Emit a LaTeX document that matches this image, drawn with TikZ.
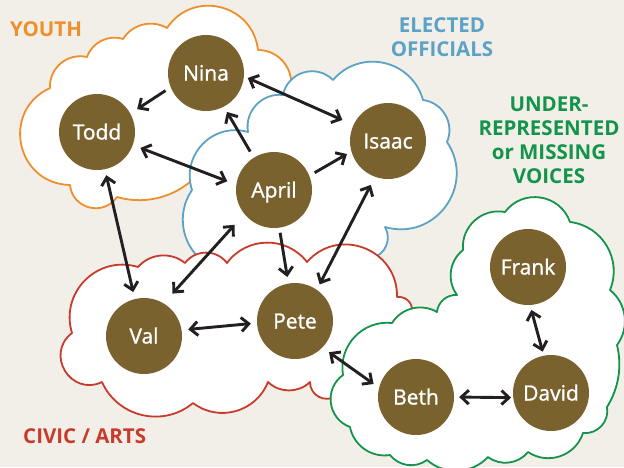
\documentclass[tikz,border=0pt]{standalone}
\usepackage{fontspec}
\setmainfont{Open Sans}
\newfontfamily\namefont{Open Sans}[FakeBold=1.2]
\usetikzlibrary{arrows.meta}
\definecolor{bgc}{HTML}{F2EFE9}
\definecolor{orng}{HTML}{EE8F2B}
\definecolor{blu}{HTML}{5BA2C6}
\definecolor{grn}{HTML}{13944A}
\definecolor{rd}{HTML}{C83A2B}
\definecolor{nodec}{HTML}{7A622E}
\definecolor{arrc}{HTML}{231F20}
\begin{document}
\begin{tikzpicture}[x=1pt,y=-1pt,
  b10/.style={bend left=23,looseness=0.89},
  b15/.style={bend left=33,looseness=0.93},
  b20/.style={bend left=44,looseness=0.99},
  b25/.style={bend left=53,looseness=1.06},
  b30/.style={bend left=62,looseness=1.16},
  b35/.style={bend left=70,looseness=1.27},
  b40/.style={bend left=77,looseness=1.40},
  b45/.style={bend left=84,looseness=1.54},
  cloudline/.style={line width=1.8pt, fill=white, line join=round},
  person/.style={circle, fill=nodec, minimum size=76pt, inner sep=0pt, text=white,
    font=\namefont\fontsize{21}{24}\selectfont, text height=15pt, text depth=0pt},
  grp/.style={font=\fontsize{20.5}{24}\selectfont\bfseries, inner sep=0pt, align=center},
  link/.style={line width=2.9pt, draw=arrc},
  >={Straight Barb[length=7.5pt,width=14pt]},
]
\useasboundingbox (0,0) rectangle (624,467);
\fill[bgc] (0,0) rectangle (624,467);

% YOUTH cloud
\draw[cloudline, draw=orng] (70,185) to[b40] (50,88) to[b25] (87,57) to[b20] (123,39)
  to[b20] (167,28) to[b35] (258,50) to[b25] (290,92) -- (275,150) -- (200,172)
  to[b15] (117,197) to[b35] (70,185) -- cycle;
% ELECTED OFFICIALS cloud
\draw[cloudline, draw=blu] (204,262) to[b20] (192,190) to[b30] (248,132) to[b25] (283,95)
  to[b30] (333,80) to[b30] (423,100) to[b25] (447,142) to[b35] (385,227)
  to[b25] (372,258) -- (365,290) -- (215,290) -- cycle;
% CIVIC / ARTS cloud
\draw[cloudline, draw=rd] (72,333) to[b30] (138,267) to[b20] (185,263) to[b25] (227,263)
  to[b25] (307,262) to[b35] (397,297) to[b25] (412,312) -- (336,396)
  to[b30] (310,382) to[b20] (268,382) to[b25] (193,403) to[b25] (102,382)
  to[b45] (72,333) -- cycle;
% UNDER-REPRESENTED cloud
\draw[cloudline, draw=grn] (350,427) to[b30] (343,375) to[b25] (392,323) to[b20] (437,312)
  to[b20] (457,295) to[b20] (463,250) to[b25] (505,212) to[b30] (570,222)
  to[b25] (610,290) to[b20] (617,345) to[b10] (607,407) to[b25] (583,433)
  to[b25] (528,452) to[b20] (488,457) to[b20] (427,460) to[b20] (390,455)
  to[b20] (350,427) -- cycle;

% group labels
\node[grp, text=orng, anchor=base west] (youth) at (10,36.7) {YOUTH};
\node[grp, text=blu, anchor=north] (elected) at (442,17) {ELECTED\\OFFICIALS};
\node[grp, text=grn, anchor=north] (under) at (549,96.7) {UNDER-\\REPRESENTED\\or MISSING\\VOICES};
\node[grp, text=rd, anchor=base west] (civic) at (23,443) {CIVIC / ARTS};

% people
\node[person] (Nina) at (206,73) {Nina};
\node[person] (Todd) at (97,132) {Todd};
\node[person] (April) at (274,190) {April};
\node[person] (Isaac) at (388,141) {Isaac};
\node[person] (Val) at (144,336) {Val};
\node[person] (Pete) at (295,321) {Pete};
\node[person] (Frank) at (528,267) {Frank};
\node[person] (David) at (551,393) {David};
\node[person] (Beth) at (416,397) {Beth};

% links
\draw[link,->,shorten <=6pt,shorten >=8pt] (Nina.202) -- (Todd.29);
\draw[link,<->,shorten <=4pt,shorten >=12pt] (Nina.-5) -- (Isaac.155);
\draw[link,->,shorten <=7pt,shorten >=6pt] (April.122) -- (Nina.-62);
\draw[link,<->,shorten <=8pt,shorten >=9.5pt] (Todd.-20) -- (April.172);
\draw[link,->,shorten <=6pt,shorten >=5pt] (April.22) -- (Isaac.196);
\draw[link,<->,shorten <=6pt,shorten >=7pt] (Todd.-78) -- (Val.104);
\draw[link,<->,shorten <=14.5pt,shorten >=13pt] (April.219) -- (Val.59);
\draw[link,->,shorten <=5pt,shorten >=6.5pt] (April.-82) -- (Pete.100);
\draw[link,<->,shorten <=9pt,shorten >=6pt] (Isaac.250) -- (Pete.55);
\draw[link,<->,shorten <=6.5pt,shorten >=6pt] (Val.9) -- (Pete.183);
\draw[link,<->,shorten <=8pt,shorten >=6.5pt] (Pete.-44) -- (Beth.166);
\draw[link,<->,shorten <=5pt,shorten >=2pt] (Beth.0) -- (David.187);
\draw[link,<->,shorten <=5pt,shorten >=4pt] (Frank.-87) -- (David.101);
\end{tikzpicture}
\end{document}
